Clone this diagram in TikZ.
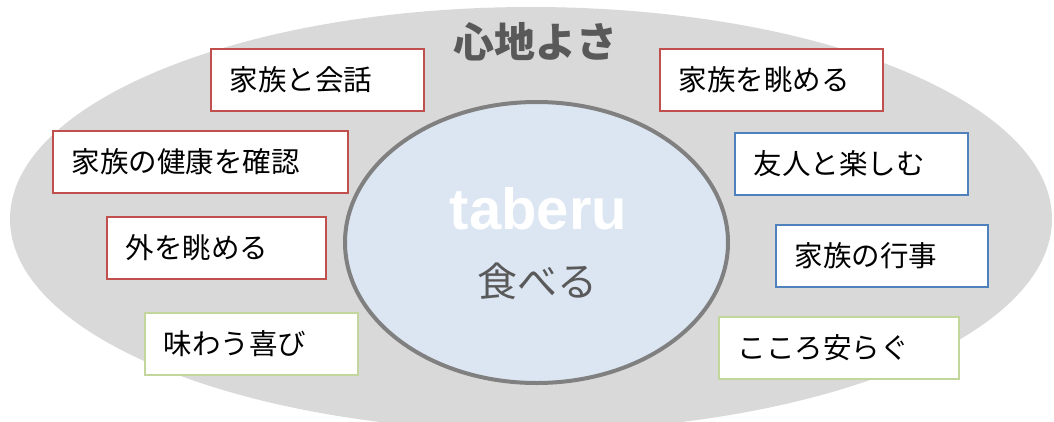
\documentclass[tikz,border=0pt]{standalone}
\usepackage{fontspec}
\setmainfont{Noto Sans CJK JP}
\newfontfamily\latinfont{Liberation Sans}
\usetikzlibrary{shapes.geometric}
\definecolor{outergray}{RGB}{217,217,217}
\definecolor{corefill}{RGB}{220,230,242}
\definecolor{corestroke}{RGB}{128,128,128}
\definecolor{txtgray}{RGB}{89,89,89}
\definecolor{redline}{RGB}{192,80,77}
\definecolor{blueline}{RGB}{79,129,189}
\definecolor{greenline}{RGB}{195,214,155}
\begin{document}
\begin{tikzpicture}[x=1pt,y=-1pt,
  item/.style={draw, line width=1.8pt, fill=white, anchor=north west,
    inner xsep=19pt, inner ysep=0pt, minimum height=62pt, align=left,
    text=black, font=\fontsize{28.5}{30}\selectfont},
  redbox/.style={item, draw=redline},
  bluebox/.style={item, draw=blueline},
  greenbox/.style={item, draw=greenline}]
\useasboundingbox (0,0) rectangle (1054,421);
% outer ellipse
\node[ellipse, fill=outergray, inner sep=0pt, minimum width=1042pt, minimum height=424pt] (outer) at (531,219) {};
% inner ellipse
\node[ellipse, draw=corestroke, fill=corefill, line width=4pt, inner sep=0pt, minimum width=383pt, minimum height=281pt] (core) at (536.5,242.5) {};
% titles
\node[text=txtgray, font=\fontsize{41}{44}\selectfont\bfseries, inner sep=0pt] (title) at (535,41.5) {心地よさ};
\node[text=white, font=\latinfont\bfseries\fontsize{58}{60}\selectfont, inner sep=0pt, anchor=base] (taberu) at (538.5,229) {taberu};
\node[text=txtgray, font=\fontsize{40}{42}\selectfont, inner sep=0pt] (taberuJ) at (537,281) {食べる};
% boxes
\node[redbox, text width=175pt] (a) at (210,48) {家族と会話};
\node[redbox, text width=185pt] (b) at (659,48) {家族を眺める};
\node[redbox, text width=257pt] (c) at (52,130) {家族の健康を確認};
\node[redbox, text width=181pt] (d) at (106,216) {外を眺める};
\node[greenbox, text width=175pt] (e) at (144,312) {味わう喜び};
\node[bluebox, text width=195pt] (f) at (734,132) {友人と楽しむ};
\node[bluebox, text width=174pt] (g) at (775,224) {家族の行事};
\node[greenbox, text width=202pt] (h) at (718,316) {こころ安らぐ};
\end{tikzpicture}
\end{document}
